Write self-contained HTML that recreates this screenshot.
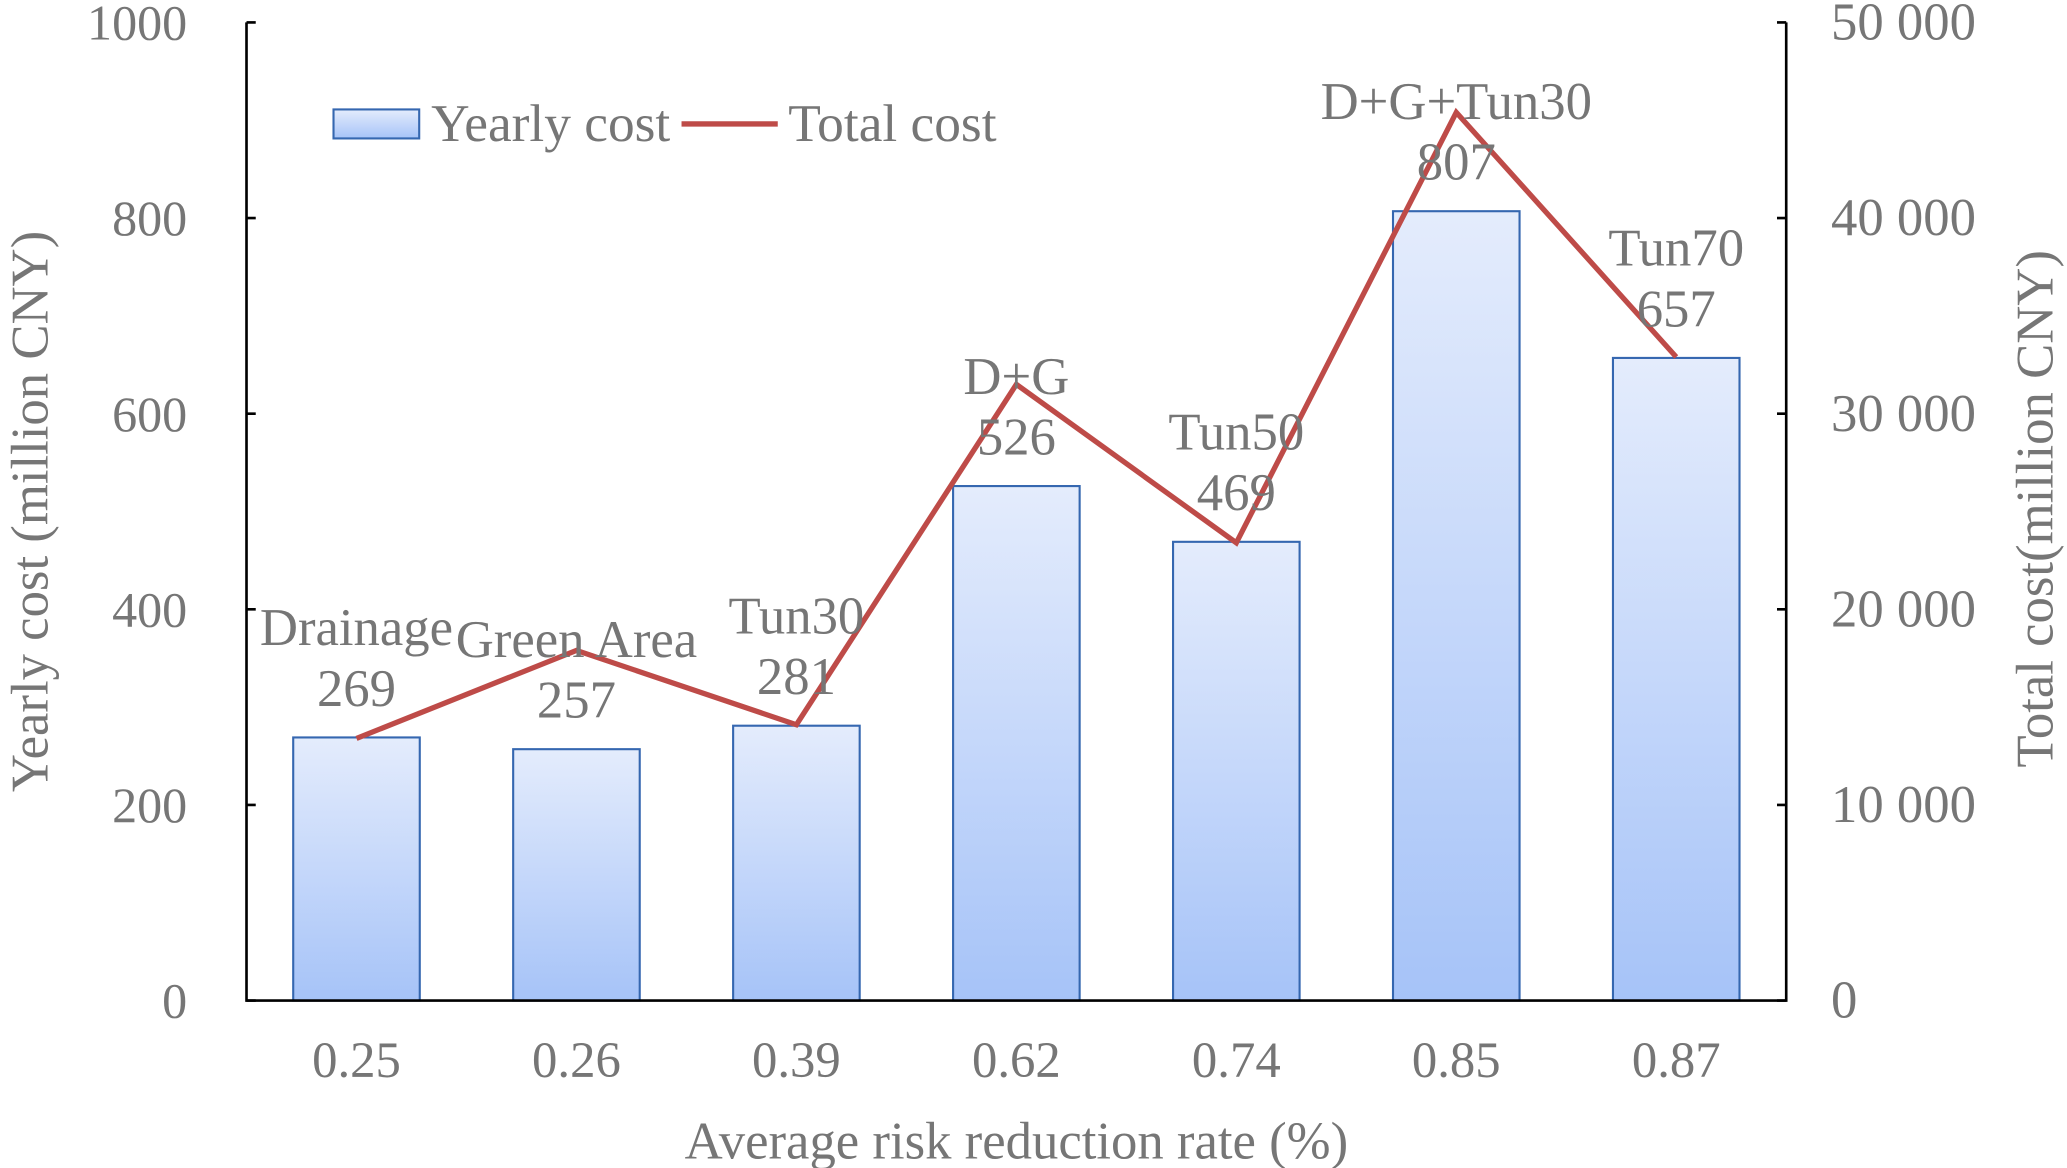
<!DOCTYPE html>
<html><head><meta charset="utf-8">
<style>html,body{margin:0;padding:0;background:#fff;}svg{display:block;}text{font-family:"Liberation Serif",serif;fill:#767676;}</style>
</head><body>
<svg id="chart" width="2067" height="1168" viewBox="0 0 1568 886" xmlns="http://www.w3.org/2000/svg">
<defs><linearGradient id="bg" x1="0" y1="0" x2="0" y2="1"><stop offset="0" stop-color="#e4ecfc"/><stop offset="1" stop-color="#a6c3f8"/></linearGradient></defs>
<g id="plot"></g>
</svg>
<script>
const categories = ["0.25","0.26","0.39","0.62","0.74","0.85","0.87"];
const names = ["Drainage","Green Area","Tun30","D+G","Tun50","D+G+Tun30","Tun70"];
const yearly = [269,257,281,526,469,807,657];
const total = [13400,17900,14100,31500,23400,45400,32900];
const leftTicks = [0,200,400,600,800,1000];
const rightTicks = [0,10000,20000,30000,40000,50000];
const rightTickLabels = ["0","10 000","20 000","30 000","40 000","50 000"];

const L=187,R=1355,T=17,B=759;
const yL=v=>B-(v/1000)*(B-T);
const yR=v=>B-(v/50000)*(B-T);
const bw=(R-L)/categories.length;
const xC=i=>L+bw*(i+0.5);
const g=document.getElementById('plot');
const NS='http://www.w3.org/2000/svg';
function mk(tag,attrs,txt){const e=document.createElementNS(NS,tag);for(const k in attrs)e.setAttribute(k,attrs[k]);if(txt!==undefined)e.textContent=txt;g.appendChild(e);return e;}

categories.forEach((c,i)=>{
  const r=mk('rect',{x:xC(i)-48,y:yL(yearly[i]),width:96,height:B-yL(yearly[i]),fill:'url(#bg)',stroke:'#3567b0','stroke-width':1.6});
  
  
  const t=mk('text',{x:xC(i),y:817,'font-size':38.5,'text-anchor':'middle'},c);
  
  
});
const ax=mk('path',{d:`M${L},${T}V${B}H${R}V${T}`,fill:'none',stroke:'#000','stroke-width':2});


leftTicks.forEach(v=>{
  const tk=mk('line',{x1:L,x2:L+7,y1:yL(v),y2:yL(v),stroke:'#000','stroke-width':2});
  
  
  const t=mk('text',{x:142,y:yL(v)+13,'font-size':38,'text-anchor':'end'},String(v));
  
  
});
rightTicks.forEach((v,i)=>{
  const tk=mk('line',{x1:R-7,x2:R,y1:yR(v),y2:yR(v),stroke:'#000','stroke-width':2});
  
  
  const t=mk('text',{x:1389,y:yR(v)+13,'font-size':40},rightTickLabels[i]);
  
  
});
const pl=mk('polyline',{points:total.map((v,i)=>xC(i)+','+yR(v)).join(' '),fill:'none',stroke:'#be4b48','stroke-width':4,'stroke-linejoin':'miter'});


names.forEach((n,i)=>{
  const vy=yL(yearly[i])-24;
  const a=mk('text',{x:xC(i),y:vy,'font-size':40,'text-anchor':'middle'},String(yearly[i]));
  
  
  const b=mk('text',{x:xC(i),y:vy-46,'font-size':40,'text-anchor':'middle'},n);
  
  
});
const lb=mk('rect',{x:253,y:83,width:65,height:22,fill:'url(#bg)',stroke:'#3567b0','stroke-width':1.6});


const lt1=mk('text',{x:327,y:107,'font-size':40.5},'Yearly cost');


const ll=mk('line',{x1:517,x2:590,y1:94,y2:94,stroke:'#be4b48','stroke-width':4});


const lt2=mk('text',{x:598,y:107,'font-size':40.5},'Total cost');


const xt=mk('text',{x:771,y:879,'font-size':40,'text-anchor':'middle'},'Average risk reduction rate (%)');


const yt=mk('text',{x:0,y:0,'font-size':40,'text-anchor':'middle',transform:'translate(36,388) rotate(-90)'},'Yearly cost (million CNY)');


const rt=mk('text',{x:0,y:0,'font-size':40,'text-anchor':'middle',transform:'translate(1557,386) rotate(-90)'},'Total cost(million CNY)');


</script>
</body></html>
